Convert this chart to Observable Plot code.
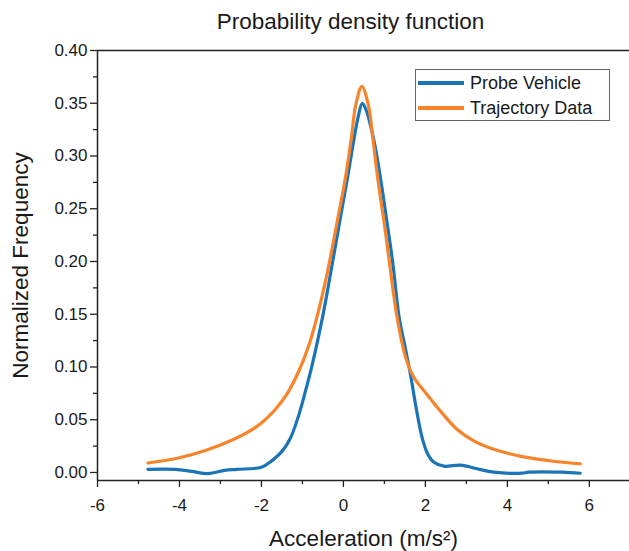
<!DOCTYPE html>
<html>
<head>
<meta charset="utf-8">
<script src="https://cdn.jsdelivr.net/npm/d3@7"></script>
<script src="https://cdn.jsdelivr.net/npm/@observablehq/plot@0.6"></script>
<style>
  html, body { margin: 0; padding: 0; background: #fff; }
  #wrap { position: relative; width: 629px; height: 551px; font-family: "Liberation Sans", Arial, sans-serif; }
  #legend { position: absolute; left: 415px; top: 69px; width: 195px; height: 52px; border: 1px solid #666; background: #fff; box-sizing: border-box; }
  .item { position: absolute; left: 2px; height: 24px; display: flex; align-items: center; font-size: 18px; color: #1a1a1a; }
  .sw { width: 46px; height: 3.5px; margin-right: 6px; }
</style>
</head>
<body>
<div id="wrap"></div>
<script>
const seriesNames = ["Probe Vehicle", "Trajectory Data"];
const seriesColors = ["#1a74b6", "#f7832b"];

const probeX = [-4.77, -4.1, -3.7, -3.3, -2.9, -2.6, -2.0, -1.75, -1.5, -1.3, -1.1, -0.92, -0.75, -0.51, -0.33, -0.09, 0.08, 0.24, 0.36, 0.46, 0.56, 0.66, 0.77, 0.92, 1.06, 1.20, 1.36, 1.50, 1.64, 1.78, 1.92, 2.05, 2.20, 2.45, 2.86, 3.26, 3.67, 4.36, 4.52, 5.33, 5.78];
const probeY = [0.003, 0.003, 0.001, -0.001, 0.002, 0.003, 0.005, 0.011, 0.020, 0.032, 0.053, 0.078, 0.104, 0.147, 0.185, 0.238, 0.275, 0.312, 0.337, 0.350, 0.343, 0.329, 0.310, 0.275, 0.238, 0.200, 0.147, 0.120, 0.092, 0.060, 0.033, 0.018, 0.010, 0.006, 0.007, 0.0035, 0.0003, -0.0007, 0.0003, 0.0003, -0.0007];

const trajX = [-4.77, -4.0, -3.35, -2.7, -2.3, -2.0, -1.7, -1.4, -1.1, -0.83, -0.59, -0.39, -0.15, 0.03, 0.19, 0.30, 0.45, 0.61, 0.72, 0.85, 0.99, 1.12, 1.31, 1.52, 1.72, 2.04, 2.37, 2.77, 3.18, 3.67, 4.36, 5.17, 5.78];
const trajY = [0.009, 0.014, 0.021, 0.031, 0.039, 0.047, 0.058, 0.073, 0.095, 0.122, 0.156, 0.190, 0.238, 0.275, 0.316, 0.348, 0.366, 0.348, 0.316, 0.275, 0.238, 0.200, 0.147, 0.109, 0.090, 0.074, 0.058, 0.041, 0.030, 0.022, 0.015, 0.0104, 0.0082];

const xTicks = [-6, -4, -2, 0, 2, 4, 6];
const xMinorTicks = [-5, -3, -1, 1, 3, 5];
const yTicks = [0, 0.05, 0.10, 0.15, 0.20, 0.25, 0.30, 0.35, 0.40];
const yMinorTicks = [0.025, 0.075, 0.125, 0.175, 0.225, 0.275, 0.325, 0.375];
const xDomain = [-6, 6.98];
const yDomain = [-0.0076, 0.40];

const title = "Probability density function";
const xLabel = "Acceleration (m/s²)";
const yLabel = "Normalized Frequency";

const data = [
  ...probeX.map((x, i) => ({series: seriesNames[0], x, y: probeY[i]})),
  ...trajX.map((x, i) => ({series: seriesNames[1], x, y: trajY[i]}))
];

const font = "Liberation Sans, Arial, sans-serif";
const chart = Plot.plot({
  width: 629,
  height: 551,
  marginLeft: 97,
  marginRight: 0,
  marginTop: 50,
  marginBottom: 71,
  style: {fontFamily: font, background: "#fff", color: "#1a1a1a", overflow: "visible"},
  x: {domain: xDomain},
  y: {domain: yDomain},
  color: {domain: seriesNames, range: seriesColors},
  marks: [
    Plot.line(data, {x: "x", y: "y", z: "series", stroke: "series", strokeWidth: 3.2, curve: "catmull-rom"}),
    Plot.ruleX([xDomain[0]], {stroke: "#222", strokeWidth: 1.5}),
    Plot.ruleY(yDomain, {stroke: "#222", strokeWidth: 1.5}),
    Plot.axisX({ticks: xTicks, tickSize: 7, tickPadding: 11, tickFormat: d => String(d), fontSize: 17, label: null, stroke: "#222", strokeWidth: 1.3}),
    Plot.axisX({ticks: xMinorTicks, tickSize: 4, tickFormat: () => "", label: null, stroke: "#222", strokeWidth: 1.3}),
    Plot.axisY({ticks: yTicks, tickSize: 7, tickPadding: 3, tickFormat: d => d.toFixed(2), fontSize: 17, label: null, stroke: "#222", strokeWidth: 1.3}),
    Plot.axisY({ticks: yMinorTicks, tickSize: 4, tickFormat: () => "", label: null, stroke: "#222", strokeWidth: 1.3}),
    Plot.text([title], {frameAnchor: "top", lineAnchor: "middle", textAnchor: "middle", dy: -29, dx: -13, fontSize: 22.5, fill: "#1a1a1a"}),
    Plot.text([xLabel], {frameAnchor: "bottom", lineAnchor: "middle", textAnchor: "middle", dy: 58, fontSize: 22.5, fill: "#1a1a1a"}),
    Plot.text([yLabel], {frameAnchor: "left", lineAnchor: "middle", textAnchor: "middle", dx: -77, rotate: -90, fontSize: 22.5, fill: "#1a1a1a"})
  ]
});

const wrap = document.getElementById("wrap");
wrap.appendChild(chart);

const legend = document.createElement("div");
legend.id = "legend";
seriesNames.forEach((name, i) => {
  const item = document.createElement("div");
  item.className = "item";
  item.style.top = (1 + i * 25) + "px";
  const sw = document.createElement("span");
  sw.className = "sw";
  sw.style.background = seriesColors[i];
  const label = document.createElement("span");
  label.textContent = name;
  item.appendChild(sw);
  item.appendChild(label);
  legend.appendChild(item);
});
wrap.appendChild(legend);
</script>
</body>
</html>
